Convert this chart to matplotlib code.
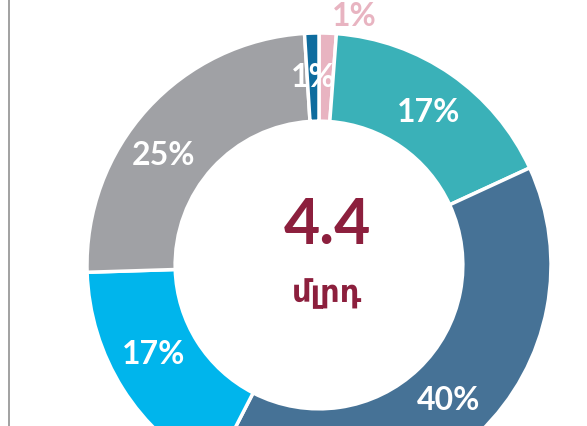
import numpy as np
import matplotlib
matplotlib.use("Agg")
import matplotlib.pyplot as plt

# slices, clockwise from 12 o'clock
shares = [1.2, 17.0, 39.6, 17.0, 24.6, 1.0]
labels = ["1%", "17%", "40%", "17%", "25%", "1%"]
colors = ["#E8B4C1", "#3AB1B8", "#467296", "#00B5EC", "#A0A1A5", "#0E6C9E"]
total_value = "4.4"
total_unit = "մլրդ"

W, H = 587, 426
fig = plt.figure(figsize=(W / 100, H / 100), dpi=100)
ax = fig.add_axes([0, 0, 1, 1])

cx, cy = 319, 426 - 265
R = 232
wedges, _ = ax.pie(shares, colors=colors, startangle=90, counterclock=False,
                   radius=R, center=(cx, cy),
                   wedgeprops=dict(width=R * 0.38, edgecolor="white", linewidth=2.5))

# small nudges of the label angle (deg) and radius, per slice
nudge = [-6, -1, 0, -4, 7, 0]
rad = [1.08, 0.81, 0.81, 0.81, 0.82, 0.81]

font = ["Lato", "DejaVu Sans"]
for i, (w, lab) in enumerate(zip(wedges, labels)):
    mid = np.deg2rad((w.theta1 + w.theta2) / 2 + nudge[i])
    col = colors[0] if i == 0 else "white"
    x = cx + rad[i] * R * np.cos(mid)
    y = cy + rad[i] * R * np.sin(mid)
    ax.text(x, y, lab, ha="center", va="center", fontsize=23, fontweight="bold",
            color=col, family=font)

ax.text(cx + 8, 426 - 226, total_value, ha="center", va="center", fontsize=45,
        fontweight="bold", color="#8C1F3D", family=font)
ax.text(cx + 8, 426 - 294, total_unit, ha="center", va="center", fontsize=22,
        fontweight="bold", color="#8C1F3D", family=["DejaVu Sans"])

# thin rule on the left
ax.plot([9, 9], [0, H], color="#9A9A9A", lw=1.3)

ax.set_xlim(0, W)
ax.set_ylim(0, H)
ax.set_aspect("auto")
ax.axis("off")

fig.savefig("out.png", dpi=100)
